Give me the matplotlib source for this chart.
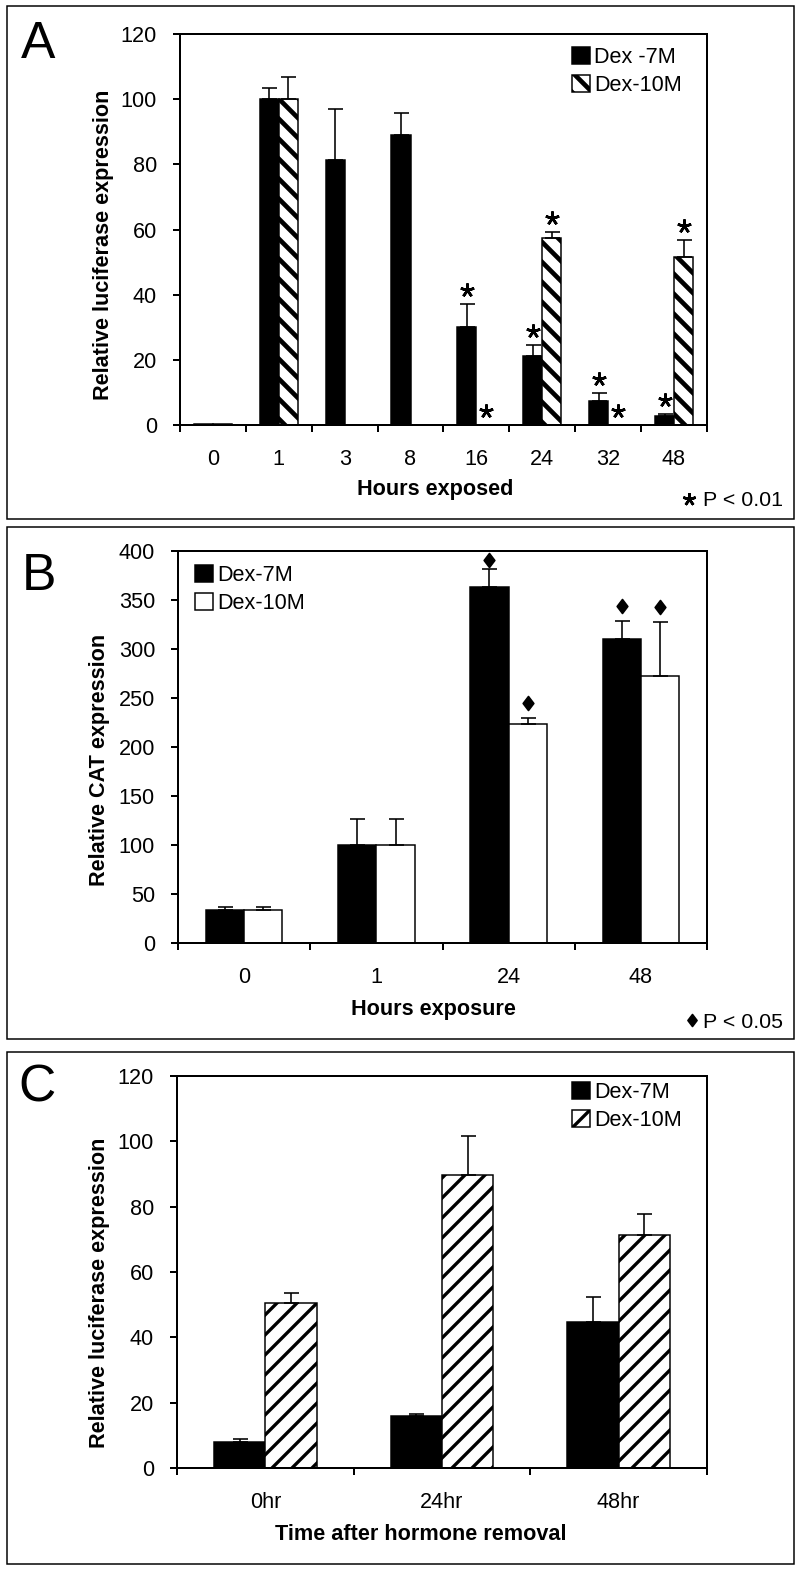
import matplotlib
matplotlib.use('Agg')
import matplotlib.pyplot as plt
from matplotlib.patches import Rectangle
from matplotlib.path import Path
import numpy as np

plt.rcParams['font.family'] = ['Liberation Sans', 'DejaVu Sans']
plt.rcParams['hatch.linewidth'] = 2.3

DPI = 120
W, H = 800, 1571


def pt(px):
    return px * 72.0 / DPI


# ---------------- data ----------------
# Panel A
a_hours = ['0', '1', '3', '8', '16', '24', '32', '48']
a_dex7 = [0.4, 100, 81.3, 89.0, 30.0, 21.3, 7.3, 2.8]
a_dex7_err = [0, 3.3, 15.8, 6.7, 7.0, 3.1, 2.5, 0.7]
a_dex10 = [0.3, 100, 0, 0, 0, 57.5, 0, 51.5]
a_dex10_err = [0, 6.8, 0, 0, 0, 1.6, 0, 5.2]
a_sig7 = [0, 0, 0, 0, 1, 1, 1, 1]
a_sig10 = [0, 0, 0, 0, 1, 1, 1, 1]
a_labels = ['Dex -7M', 'Dex-10M']

# Panel B
b_hours = ['0', '1', '24', '48']
b_dex7 = [33.6, 100, 363, 310.3]
b_dex7_err = [2.8, 26.8, 18.3, 18.3]
b_dex10 = [33.6, 100, 223, 272.9]
b_dex10_err = [2.8, 26.8, 7.0, 55.1]
b_sig7 = [0, 0, 1, 1]
b_sig10 = [0, 0, 1, 1]
b_labels = ['Dex-7M', 'Dex-10M']

# Panel C
c_times = ['0hr', '24hr', '48hr']
c_dex7 = [8.1, 15.9, 44.7]
c_dex7_err = [0.9, 0.7, 7.8]
c_dex10 = [50.6, 89.8, 71.4]
c_dex10_err = [2.9, 11.7, 6.3]
c_labels = ['Dex-7M', 'Dex-10M']

# ---------------- figure ----------------
fig = plt.figure(figsize=(W / DPI, H / DPI), dpi=DPI)
fig.patch.set_facecolor('white')

ov = fig.add_axes([0, 0, 1, 1])
ov.set_xlim(0, W)
ov.set_ylim(H, 0)
ov.axis('off')
ov.patch.set_alpha(0)

TICK_FS = 13.0
LAB_FS = 13.0
BAR_W = 0.29
LW_SPINE = pt(2.0)
LW_BAR = pt(1.5)


def make_ax(L, R, T, B):
    return fig.add_axes([L / W, 1 - B / H, (R - L) / W, (B - T) / H])


def style_ax(ax, cats, ymax, ystep):
    n = len(cats)
    x = np.arange(n)
    ax.set_xlim(-0.5, n - 0.5)
    ax.set_ylim(0, ymax)
    ax.set_yticks(np.arange(0, ymax + 1, ystep))
    ax.set_xticks(x)
    ax.set_xticklabels(cats, fontsize=TICK_FS)
    ax.set_xticks(np.arange(-0.5, n), minor=True)
    ax.tick_params(axis='x', which='major', length=0, pad=pt(24))
    ax.tick_params(axis='x', which='minor', length=pt(7), width=LW_SPINE,
                   direction='out')
    ax.tick_params(axis='y', length=pt(7), width=LW_SPINE, direction='out',
                   pad=pt(16), labelsize=TICK_FS)
    for s in ax.spines.values():
        s.set_linewidth(LW_SPINE)
        s.set_color('black')
    ax.patch.set_facecolor('white')


def draw_bars(ax, v7, e7, v10, e10, hatch10, hatch_lw, labels):
    n = len(v7)
    x = np.arange(n)
    b1 = ax.bar(x - BAR_W / 2, v7, BAR_W, color='black', edgecolor='black',
                linewidth=LW_BAR, label=labels[0], zorder=2)
    b2 = ax.bar(x + BAR_W / 2, v10, BAR_W, color='white', edgecolor='black',
                linewidth=LW_BAR, hatch=hatch10, label=labels[1], zorder=2)
    for p in b2:
        if hasattr(p, 'set_hatch_linewidth'):
            p.set_hatch_linewidth(hatch_lw)
    for xs, vals, errs in ((x - BAR_W / 2, v7, e7), (x + BAR_W / 2, v10, e10)):
        idx = [i for i in range(n) if errs[i] > 0]
        if idx:
            ax.errorbar(xs[idx], np.array(vals)[idx],
                        yerr=[np.zeros(len(idx)), np.array(errs)[idx]],
                        fmt='none', ecolor='black', elinewidth=pt(1.6),
                        capsize=pt(7.5), capthick=pt(1.6), zorder=3)
    return b1, b2


def add_legend(ax, handles, labels, x_px, y_px, hatch_lw):
    leg = ax.legend(handles, labels, loc='upper left',
                    bbox_to_anchor=(x_px / W, 1 - y_px / H),
                    bbox_transform=fig.transFigure, frameon=False,
                    borderpad=0, borderaxespad=0, handlelength=0.82,
                    handleheight=0.85, handletextpad=0.2, labelspacing=0.3,
                    fontsize=LAB_FS)
    for h in leg.legend_handles:
        h.set_linewidth(LW_BAR)
        if hasattr(h, 'set_hatch_linewidth'):
            h.set_hatch_linewidth(hatch_lw)
    return leg


# asterisk marker: 5 arms, one pointing up
STAR = (5, 2, 0)
# slim diamond marker
DIAMOND = Path([(0, 0.5), (0.38, 0), (0, -0.5), (-0.38, 0), (0, 0.5)],
               [Path.MOVETO, Path.LINETO, Path.LINETO, Path.LINETO,
                Path.CLOSEPOLY])

# ---------------- Panel A ----------------
axA = make_ax(180, 707, 34, 425)
style_ax(axA, a_hours, 120, 20)
bA = draw_bars(axA, a_dex7, a_dex7_err, a_dex10, a_dex10_err, '\\\\', 2.8,
               a_labels)
xa = np.arange(len(a_hours))
sx, sy = [], []
for i in range(len(a_hours)):
    if a_sig7[i]:
        sx.append(xa[i] - BAR_W / 2)
        sy.append(a_dex7[i] + a_dex7_err[i] + 4.3)
    if a_sig10[i]:
        sx.append(xa[i] + BAR_W / 2)
        sy.append(a_dex10[i] + a_dex10_err[i] + 4.3)
axA.plot(sx, sy, ls='none', marker=STAR, ms=pt(14), mew=pt(2.6),
         color='black', zorder=4, clip_on=False)
add_legend(axA, bA, a_labels, 572, 47, 2.8)

# ---------------- Panel B ----------------
axB = make_ax(178, 707, 551, 943)
style_ax(axB, b_hours, 400, 50)
bB = draw_bars(axB, b_dex7, b_dex7_err, b_dex10, b_dex10_err, None, 1.0,
               b_labels)
xb = np.arange(len(b_hours))
dx, dy = [], []
for i in range(len(b_hours)):
    if b_sig7[i]:
        dx.append(xb[i] - BAR_W / 2)
        dy.append(min(b_dex7[i] + b_dex7_err[i] + 15, 391))
    if b_sig10[i]:
        dx.append(xb[i] + BAR_W / 2)
        dy.append(min(b_dex10[i] + b_dex10_err[i] + 15, 391))
axB.plot(dx, dy, ls='none', marker=DIAMOND, ms=pt(14), color='black',
         mec='black', zorder=4, clip_on=False)
add_legend(axB, bB, b_labels, 195, 565, 1.0)

# ---------------- Panel C ----------------
axC = make_ax(177, 707, 1076, 1468)
style_ax(axC, c_times, 120, 20)
bC = draw_bars(axC, c_dex7, c_dex7_err, c_dex10, c_dex10_err, '//', 2.0,
               c_labels)
add_legend(axC, bC, c_labels, 572, 1082, 2.0)

# ---------------- annotations (overlay, pixel coordinates) ----------------
for (y0, y1) in ((6, 519), (527, 1039), (1052, 1564)):
    ov.add_patch(Rectangle((7, y0), 787, y1 - y0, fill=False,
                           edgecolor='black', linewidth=pt(1.5)))

ov.text(21, 58, 'A', fontsize=31, ha='left', va='baseline')
ov.text(22, 590, 'B', fontsize=31, ha='left', va='baseline')
ov.text(18, 1101, 'C', fontsize=31, ha='left', va='baseline')

ov.text(103.6, 244.6, 'Relative luciferase expression', rotation=90,
        ha='center', va='center', fontsize=LAB_FS, fontweight='bold')
ov.text(99.6, 759.6, 'Relative CAT expression', rotation=90,
        ha='center', va='center', fontsize=LAB_FS, fontweight='bold')
ov.text(99.6, 1293, 'Relative luciferase expression', rotation=90,
        ha='center', va='center', fontsize=LAB_FS, fontweight='bold')

ov.text(435, 489, 'Hours exposed', ha='center', va='center',
        fontsize=LAB_FS, fontweight='bold')
ov.text(433, 1009, 'Hours exposure', ha='center', va='center',
        fontsize=LAB_FS, fontweight='bold')
ov.text(421, 1534, 'Time after hormone removal', ha='center', va='center',
        fontsize=LAB_FS, fontweight='bold')

ov.plot([689], [499], ls='none', marker=STAR, ms=pt(13), mew=pt(2.6),
        color='black')
ov.text(703, 506, 'P < 0.01', ha='left', va='baseline', fontsize=12.8)
ov.plot([692], [1020], ls='none', marker=DIAMOND, ms=pt(12), color='black')
ov.text(703, 1028, 'P < 0.05', ha='left', va='baseline', fontsize=12.8)

fig.savefig('out.png', dpi=DPI, facecolor='white')
